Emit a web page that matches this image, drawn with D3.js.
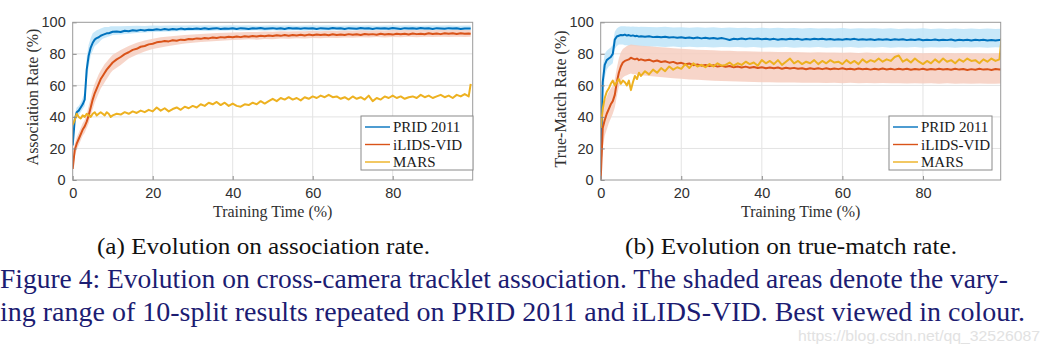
<!DOCTYPE html>
<html><head><meta charset="utf-8">
<script src="https://cdn.jsdelivr.net/npm/d3@7"></script>
<style>body{margin:0;background:#fff}svg{display:block}</style>
</head><body>
<svg id="fig" width="1050" height="351"></svg>
<script>
// ---------- DATA ----------
const seriesNames = ["PRID 2011", "iLIDS-VID", "MARS"];
const xTicks = [0, 20, 40, 60, 80];
const yTicks = [0, 20, 40, 60, 80, 100];

// training time grid (%) for the curves
const xs = [0,0.5,1,1.5,2,2.5,3,3.5,4,4.5,5,5.5,6,6.5,7,7.5,8,8.5,9,9.5,10,
 11,12,13,14,15,16,17,18,19,20,21,22,23,24,25,26,27,28,29,30,
 31,32,33,34,35,36,37,38,39,40,41,42,43,44,45,46,47,48,49,50,
 51,52,53,54,55,56,57,58,59,60,61,62,63,64,65,66,67,68,69,70,
 71,72,73,74,75,76,77,78,79,80,81,82,83,84,85,86,87,88,89,90,
 91,92,93,94,95,96,97,98,99,99.5];
// grid for the shaded ranges
const bxs = [0,0.5,1,1.5,2,2.5,3,3.5,4,4.5,5,5.5,6,6.5,7,7.5,8,8.5,9,9.5,10,
 12,14,16,18,20,22,24,26,28,30,32,34,36,38,40,42,44,46,48,50,
 52,54,56,58,60,62,64,66,68,70,72,74,76,78,80,82,84,86,88,90,
 92,94,96,98,99.5];

// (a) association rate
const assocPRID = [22,38,43,44,46,48,51,70,79,84,87,89,90,90.5,91.5,92,92.5,93,93,93.5,94,
 94.2,93.8,94.6,94.3,95,94.6,95.2,94.8,95.3,95.1,
 95.6,95.2,95.7,95.3,95.8,95.5,96,95.6,95.9,95.7,
 96.1,95.8,96.2,95.7,96,96.3,95.8,96.1,95.9,96.2,
 95.8,96.3,96,95.7,96.2,96,96.4,95.9,96.1,96.3,
 95.9,96.2,95.8,96.4,96,96.2,95.9,96.3,96,96.2,
 95.8,96.3,96.1,95.9,96.4,96,96.2,95.8,96.3,96.1,
 95.9,96.4,96,96.2,95.8,96.3,96,96.2,95.9,96.4,
 96.1,95.8,96.3,96,96.2,95.9,96.4,96,96.2,95.8,
 96.3,96.1,95.9,96.3,96,96.2,95.8,96.1,96,96];
const assocILIDS = [7,19,23,26,29,32,34,37,41,46,51,55,58,61,64,66,68,70,71.5,73,74.5,
 76.5,78,79.8,81,82.5,83.2,84.5,85,86,86.4,
 87.3,87.6,88.2,87.9,88.6,88.3,89,88.8,89.4,89.3,
 89.8,89.5,90.1,89.8,90.4,90.1,90.6,90.3,90.8,90.5,
 91,90.6,91.2,90.8,91.3,91,91.5,91.1,91.6,91.3,
 91.8,91.4,91.9,91.5,92,91.7,92.1,91.6,92.2,91.8,
 92.3,91.9,92.2,91.8,92.4,92,92.3,91.9,92.5,92.1,
 92.4,92,92.6,92.2,92.5,92.1,92.7,92.3,92.6,92.2,
 92.8,92.4,92.7,92.3,92.9,92.5,92.8,92.4,93,92.6,
 92.9,92.5,93.1,92.7,93,92.6,93.1,92.7,92.9,92.8];
const assocMARS = [35,38,42,40,39,41,40,42,41,40,42,43,41,42,43,42,41,43,42,40,41,
 42,41.5,43,42,43.5,42.5,44,43,44.5,43.5,
 46,44,45.5,43.5,45,46,44.5,46.5,45.5,47,
 46,48,47,49,48,49.5,47.5,49,47,48.5,
 47,46.5,48,47.5,49,48,50,48.5,50,51.5,
 50,52,51,52.5,51,52,50.5,52.5,51.5,53,
 52,53.5,52.5,54,52.5,53,51.5,52.5,51,53,
 51.5,52.5,51,53.5,50,52,51,53,52,53.5,
 52,53,51.5,52.5,53,52,54,52.5,53.5,52,
 53,54,52.5,53.5,52,54,53,54.5,53,61];
const assocPRIDLow = [20,35,40,41,43,45,47,62,72,79,82,85,86,87,88.5,89.5,90,90.5,91,91.5,92,
 92.3,92.8,93.2,93.5,93.8,94,94.2,94.3,94.5,94.6,
 94.7,94.5,94.8,94.6,94.9,94.7,94.8,95,94.7,94.9,
 94.6,94.8,95,94.7,94.9,94.6,94.8,95,94.7,94.9,
 94.8,94.6,94.9,95,94.7,94.8,94.6,94.9,94.7,95,
 94.8,94.6,94.9,94.7,94.8];
const assocPRIDHigh = [26,41,46,47,49,52,56,78,86,90,93,94,95,95.5,96,96.5,97,97,97,97.5,97.5,
 97.5,97.6,97.8,97.7,97.9,97.8,98,97.9,98,98.1,
 97.9,98.1,97.8,98,98.2,97.9,98.1,97.8,98,98.2,
 97.9,98.1,97.8,98,98.2,97.9,98.1,97.8,98,98.2,
 97.9,98.1,97.8,98,98.2,97.9,98.1,97.8,98,98.2,
 97.9,98.1,97.8,98,97.9];
const assocILIDSLow = [5,15,19,22,25,28,30,33,36,41,45,49,52,55,58,60,62,64,66,68,69.5,
 73,77,79.5,81.5,83,84,85,85.8,86.5,87,87.5,87.8,88.2,88.5,88.7,
 88.9,89.2,89,89.4,89.3,89.7,89.5,89.9,89.8,90.1,
 89.9,90.2,90.1,90.4,90.2,90.5,90.3,90.6,90.4,90.7,
 90.5,90.8,90.5,90.8,90.6,90.9,90.6,90.9,90.7,90.8];
const assocILIDSHigh = [12,23,27,30,33,36,38,42,47,52,57,61,64,67,69.5,71.5,73.5,75,76.5,78,79.5,
 82.5,85,87,88.5,89.5,90.5,91,91.5,92,92.3,92.6,92.9,93.2,93.4,93.5,
 93.7,93.9,93.8,94.1,94,94.3,94.1,94.4,94.3,94.6,
 94.4,94.7,94.5,94.8,94.6,94.9,94.7,95,94.8,95.1,
 94.9,95.1,94.9,95.2,95,95.2,95,95.3,95.1,95.1];

// (b) true-match rate
const matchPRID = [5,62,73,76,77,78,80,89,91,91.5,92,91.8,92.2,91.6,91.9,91.4,91.7,91.2,91.4,90.9,91.2,
 90.8,91.1,90.6,90.9,90.5,90.8,90.3,90.6,90.2,90.5,
 90.1,90.4,89.9,90.3,89.8,90.2,89.7,90.1,89.6,90,
 89.5,88.8,89.6,89.2,89.7,89.3,89.8,89.4,89.7,89.3,
 89.6,89.1,89.5,89,89.4,89.1,89.6,89.2,89.5,89,
 89.4,89.1,89.5,89.2,89.6,89.1,89.4,88.9,89.3,89,
 89.4,89.1,89.5,89,89.3,88.9,89.3,88.8,89.2,88.9,
 89.3,88.8,89.2,88.9,89.3,88.7,89.1,88.8,89.2,88.6,
 89,88.7,89.1,88.6,89,88.7,89.1,88.5,88.9,88.6,
 89,88.5,88.9,88.6,89,88.5,88.8,88.4,88.8,89];
const matchILIDS = [0,33,38,42,45,48,50,54,62,68,72,74.5,75.5,76,76.5,77.5,77,76.5,77,76,76.5,
 75.8,76.3,75.2,75.8,74.8,75.3,74.4,74.9,73.9,74.3,
 73.4,73.9,72.8,73.3,72.5,73,72.2,72.8,71.9,72.4,
 71.8,72.3,71.5,72,71.3,71.9,71.2,71.7,71,71.5,
 70.9,71.4,70.8,71.3,70.6,71.2,70.7,71.1,70.5,70.9,
 70.2,70.8,70.4,70.9,70.3,70.8,70.2,70.7,70.3,70.8,
 70.2,70.6,70.1,70.7,70.2,70.6,70,70.5,70.1,70.7,
 70.1,70.5,70,70.6,70.1,70.5,69.9,70.4,70,70.5,
 69.9,70.4,70,70.6,70.1,70.4,69.9,70.5,70,70.4,
 69.8,70.3,69.9,70.5,70,70.3,69.8,70.4,70,70.2];
const matchMARS = [33,45,52,56,58,61,63,60,62,64,61,63,62,60,63,57,62,66,64,68,66,
 69,67,70,68,71,69,72,70,71.5,70.5,
 73.5,71,74,72,73,71.5,73.5,72,74,72.5,
 73,74.5,72.5,74,73,75,73.5,74.5,72.5,76,
 74,75.5,73.5,76,73,75,77,74,75.5,73.5,
 75,74,76,73.5,75.5,74,76,74.5,75,73.5,
 76,74,75.5,73.5,76.5,74.5,76,75,77,75,
 76.5,75.5,78,79,75,76.5,74.5,77,75,73.5,
 75.5,74,76.5,74.5,77,75,76,74,76.5,75,
 77,75.5,76,74,76.5,75,77,75.5,76.5,90];
const matchPRIDLow = [0,50,65,70,72,73,74,83,85,86,86,86,85.5,85.5,85,85,85,84.8,84.8,84.6,84.6,
 84.5,84.7,84.3,84.6,84.2,84.5,84.1,84.4,84,84.3,
 84.1,84.4,84,84.3,83.9,84.2,84,84.3,83.9,84.2,
 84,84.3,83.9,84.2,84,84.3,83.8,84.1,84,84.3,
 83.9,84.2,84,84.3,83.8,84.1,84,84.2,83.9,84.2,
 84,84.1,83.9,84.2,84];
const matchPRIDHigh = [12,72,80,82,83,84,86,94,96,97,97.5,97.5,97.5,97.3,97.4,97.2,97.3,97.1,97.2,97,97.1,
 97,96.8,97.1,96.7,96.9,96.6,96.9,96.5,96.8,96.4,
 96.7,96.4,96.6,96.3,96.6,96.2,96.5,96.2,96.4,96.1,
 96.4,96,96.3,96.1,96.4,95.9,96.3,96,96.2,95.9,
 96.2,95.8,96.1,95.9,96.2,95.8,96.1,95.8,96,95.7,
 96,95.8,96.1,95.7,95.9];
const matchILIDSLow = [0,20,28,32,36,39,42,46,53,59,63,65,66,66.5,67,67.5,67,67,66.8,66.5,66.5,
 66,65.5,65,64.6,64.2,63.8,63.5,63.2,63,62.8,
 62.6,62.5,62.3,62.2,62,62,61.9,61.8,61.8,61.7,
 61.6,61.7,61.5,61.6,61.4,61.6,61.4,61.5,61.3,61.5,
 61.3,61.4,61.2,61.4,61.2,61.3,61.1,61.3,61.1,61.2,
 61,61.2,61,61.1,61.2];
const matchILIDSHigh = [5,45,50,53,56,58,60,64,71,77,81,83,84,85,85.5,86,85.8,85.6,85.5,85.3,85.2,
 84.8,84.4,84,83.6,83.2,82.9,82.6,82.4,82.2,82,
 81.9,81.7,81.6,81.5,81.4,81.3,81.2,81.1,81.1,81,
 80.9,81,80.8,80.9,80.7,80.8,80.6,80.8,80.6,80.7,
 80.5,80.7,80.5,80.6,80.4,80.6,80.4,80.5,80.3,80.5,
 80.3,80.4,80.2,80.4,80.4];

const subCaptions = ["(a) Evolution on association rate.", "(b) Evolution on true-match rate."];
const figCaption = ["Figure 4: Evolution on cross-camera tracklet association. The shaded areas denote the vary-",
                    "ing range of 10-split results repeated on PRID 2011 and iLIDS-VID. Best viewed in colour."];

// ---------- STYLE ----------
const colors = ["#0072BD", "#D95319", "#EDB120"];
const bandColors = ["rgb(190,228,248)", "rgb(246,206,192)"];
const SERIF = "'Liberation Serif', 'Times New Roman', Times, serif";
const SANS = "'Liberation Sans', Helvetica, Arial, sans-serif";

const svg = d3.select("#fig");

function drawChart(cfg) {
  const x = d3.scaleLinear().domain([0, cfg.xMax]).range([cfg.left, cfg.right]);
  const y = d3.scaleLinear().domain([0, 100]).range([180, 22.3]);
  const g = svg.append("g");

  // grid
  g.append("g").selectAll("line").data(xTicks.slice(1)).join("line")
    .attr("x1", d => x(d)).attr("x2", d => x(d)).attr("y1", y(0)).attr("y2", y(100))
    .attr("stroke", "#e3e3e3").attr("stroke-width", 1);
  g.append("g").selectAll("line").data(yTicks.slice(1, -1)).join("line")
    .attr("x1", cfg.left).attr("x2", cfg.right).attr("y1", d => y(d)).attr("y2", d => y(d))
    .attr("stroke", "#e3e3e3").attr("stroke-width", 1);

  const clipId = "clip" + cfg.id;
  g.append("clipPath").attr("id", clipId).append("rect")
    .attr("x", cfg.left).attr("y", y(100)).attr("width", cfg.right - cfg.left).attr("height", y(0) - y(100));
  const plot = g.append("g").attr("clip-path", `url(#${clipId})`);

  const area = d3.area().x(d => x(d[0])).y0(d => y(d[1])).y1(d => y(d[2]));
  cfg.bands.forEach((b, i) => {
    plot.append("path").datum(bxs.map((v, k) => [v, b[0][k], b[1][k]]))
      .attr("d", area).attr("fill", bandColors[i]).attr("fill-opacity", 0.85);
  });
  const line = d3.line().x(d => x(d[0])).y(d => y(d[1]));
  cfg.lines.forEach((arr, i) => {
    plot.append("path").datum(xs.map((v, k) => [v, arr[k]]))
      .attr("d", line).attr("fill", "none").attr("stroke", colors[i])
      .attr("stroke-width", 2).attr("stroke-linejoin", "round");
  });

  // axes
  const xAxis = d3.axisBottom(x).tickValues(xTicks).tickSizeInner(-4).tickSizeOuter(0).tickPadding(8);
  const yAxis = d3.axisLeft(y).tickValues(yTicks).tickSizeInner(-4).tickSizeOuter(0).tickPadding(7);
  const ax = g.append("g").attr("transform", `translate(0,${y(0)})`).call(xAxis);
  const ay = g.append("g").attr("transform", `translate(${cfg.left},0)`).call(yAxis);
  [ax, ay].forEach(a => {
    a.select(".domain").remove();
    a.selectAll("line").attr("stroke", "#8a8a8a");
    a.selectAll("text").attr("fill", "#303030").style("font-family", SANS).style("font-size", "14.5px");
  });
  // box
  g.append("rect").attr("x", cfg.left).attr("y", y(100)).attr("width", cfg.right - cfg.left)
    .attr("height", y(0) - y(100)).attr("fill", "none").attr("stroke", "#9a9a9a").attr("stroke-width", 1);

  // labels
  g.append("text").attr("x", (cfg.left + cfg.right) / 2).attr("y", 217).attr("text-anchor", "middle")
    .style("font-family", SERIF).style("font-size", "16px").attr("fill", "#303030").text("Training Time (%)");
  g.append("text").attr("transform", `translate(${cfg.ylabX},${cfg.ylabY}) rotate(-90)`).attr("text-anchor", "middle")
    .style("font-family", SERIF).style("font-size", "16px").attr("fill", "#303030").text(cfg.ylabel);

  // legend
  const lg = g.append("g");
  lg.append("rect").attr("x", cfg.legX).attr("y", 116).attr("width", cfg.legW).attr("height", 54)
    .attr("fill", "#fff").attr("stroke", "#8a8a8a").attr("stroke-width", 1);
  seriesNames.forEach((n, i) => {
    const yy = 127 + i * 17.5;
    lg.append("line").attr("x1", cfg.legX + 4).attr("x2", cfg.legX + 29).attr("y1", yy).attr("y2", yy)
      .attr("stroke", colors[i]).attr("stroke-width", 1.4);
    lg.append("text").attr("x", cfg.legX + 32).attr("y", yy + 5).style("font-family", SERIF)
      .style("font-size", "15px").attr("fill", "#1a1a1a").text(n);
  });
}

drawChart({id: "a", left: 72.7, right: 472.7, xMax: 100,
  ylabel: "Association Rate (%)", ylabX: 38, ylabY: 97,
  legX: 361, legW: 112,
  bands: [[assocPRIDLow, assocPRIDHigh], [assocILIDSLow, assocILIDSHigh]],
  lines: [assocPRID, assocILIDS, assocMARS]});
drawChart({id: "b", left: 600.7, right: 1000.7, xMax: 99.3,
  ylabel: "True-Match Rate (%)", ylabX: 566, ylabY: 99,
  legX: 889, legW: 103,
  bands: [[matchPRIDLow, matchPRIDHigh], [matchILIDSLow, matchILIDSHigh]],
  lines: [matchPRID, matchILIDS, matchMARS]});

// captions
svg.append("text").attr("x", 97).attr("y", 254).attr("textLength", 333).attr("lengthAdjust", "spacingAndGlyphs")
  .style("font-family", SERIF).style("font-size", "24px").attr("fill", "#111").text(subCaptions[0]);
svg.append("text").attr("x", 625).attr("y", 254).attr("textLength", 332).attr("lengthAdjust", "spacingAndGlyphs")
  .style("font-family", SERIF).style("font-size", "24px").attr("fill", "#111").text(subCaptions[1]);
svg.append("text").attr("x", 0).attr("y", 288).attr("textLength", 1008).attr("lengthAdjust", "spacingAndGlyphs")
  .style("font-family", SERIF).style("font-size", "27px").attr("fill", "#1c1c72").text(figCaption[0]);
svg.append("text").attr("x", 0).attr("y", 321).attr("textLength", 1025).attr("lengthAdjust", "spacingAndGlyphs")
  .style("font-family", SERIF).style("font-size", "27px").attr("fill", "#1c1c72").text(figCaption[1]);
svg.append("text").attr("x", 798).attr("y", 341).attr("textLength", 242).attr("lengthAdjust", "spacingAndGlyphs")
  .style("font-family", SANS).style("font-size", "14px").attr("fill", "#e2e2e2").text("https://blog.csdn.net/qq_32526087");

// sanity
[assocPRID, assocILIDS, assocMARS, matchPRID, matchILIDS, matchMARS].forEach((a, i) => {
  if (a.length !== xs.length) console.error("line", i, a.length, xs.length);
});
[assocPRIDLow, assocPRIDHigh, assocILIDSLow, assocILIDSHigh, matchPRIDLow, matchPRIDHigh, matchILIDSLow, matchILIDSHigh]
  .forEach((a, i) => { if (a.length !== bxs.length) console.error("band", i, a.length, bxs.length); });
</script>
</body></html>
